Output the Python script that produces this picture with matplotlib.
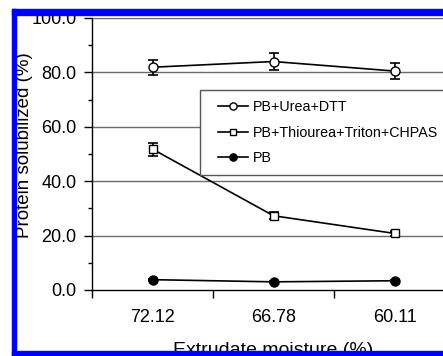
import matplotlib
matplotlib.use("Agg")
import matplotlib.pyplot as plt
from matplotlib.patches import Rectangle
from matplotlib.lines import Line2D
from matplotlib.legend_handler import HandlerLine2D
from matplotlib.ticker import MultipleLocator, FormatStrFormatter, FixedLocator

plt.rcParams["font.family"] = ["Liberation Sans", "DejaVu Sans"]

# dados
umidade = ["72.12", "66.78", "60.11"]
ureia_dtt = [81.9, 84.0, 80.5]
ureia_dtt_err = [2.8, 3.0, 2.9]
tioureia = [51.8, 27.3, 20.8]
tioureia_err = [2.4, 1.2, 1.0]
pb = [3.8, 3.0, 3.4]
pb_err = [0.4, 0.3, 0.3]
rotulos = ["PB+Urea+DTT", "PB+Thiourea+Triton+CHPAS", "PB"]

fig = plt.figure(figsize=(4.43, 3.56), dpi=100)
ax = fig.add_axes([92 / 443, 66 / 356, 363 / 443, 272 / 356])

x = range(len(umidade))
estilo = dict(color="black", lw=1.2, capsize=3.5, capthick=1.2, elinewidth=1.2, ms=6.5)
c1 = ax.errorbar(x, ureia_dtt, yerr=ureia_dtt_err, marker="o", mfc="white", mec="black",
                 **estilo)
c2 = ax.errorbar(x, tioureia, yerr=tioureia_err, marker="s", mfc="white", mec="black",
                 **{**estilo, "ms": 6})
c3 = ax.errorbar(x, pb, yerr=pb_err, marker="o", mfc="black", mec="black", **estilo)

ax.set_xlim(-0.5, 2.5)
ax.set_ylim(0, 100)
ax.set_xticks(list(x))
ax.set_xticklabels(umidade)
ax.xaxis.set_minor_locator(FixedLocator([-0.5, 0.5, 1.5, 2.5]))
ax.tick_params(axis="x", which="major", length=0, pad=14, labelsize=13)
ax.tick_params(axis="x", which="minor", length=6, width=1, direction="out")

ax.yaxis.set_major_locator(MultipleLocator(20))
ax.yaxis.set_minor_locator(MultipleLocator(10))
ax.yaxis.set_major_formatter(FormatStrFormatter("%.1f"))
ax.tick_params(axis="y", which="major", length=6, width=1, direction="out",
               pad=5, labelsize=13)
ax.tick_params(axis="y", which="minor", length=3, width=1, direction="out")

for v in [20, 40, 60, 80, 100]:
    ax.axhline(v, color="#6a6a6a", lw=1.0, zorder=0)

for s in ["top", "right"]:
    ax.spines[s].set_visible(False)
for s in ["left", "bottom"]:
    ax.spines[s].set_linewidth(1.0)

ax.set_ylabel("Protein solubilized (%)", fontsize=13.5, va="center")
ax.yaxis.set_label_coords(-0.186, 0.533)
ax.set_xlabel("Extrudate moisture (%)", fontsize=14, va="top")
ax.xaxis.set_label_coords(0.5, -0.19)

leg = ax.legend([c1[0], c2[0], c3[0]], rotulos, loc="upper left",
                bbox_to_anchor=(108 / 363, 200 / 272),
                borderaxespad=0, fontsize=10.3, frameon=True, fancybox=False,
                edgecolor="#555555", framealpha=1, handlelength=2.65,
                handletextpad=0.3, labelspacing=0.8, borderpad=0.72,
                markerscale=0.8, handler_map={Line2D: HandlerLine2D(xpad=0.55)})
leg.get_frame().set_linewidth(1.0)

# moldura azul
azul = "#0000ff"
fig.add_artist(Rectangle((12 / 443, 1 - 15 / 356), 1, 6 / 356, transform=fig.transFigure,
                         color=azul, zorder=10))
fig.add_artist(Rectangle((12 / 443, 0), 4 / 443, 1 - 9 / 356, transform=fig.transFigure,
                         color=azul, zorder=10))
fig.add_artist(Rectangle((12 / 443, 0), 1, 5 / 356, transform=fig.transFigure,
                         color=azul, zorder=10))

fig.savefig("out.png", dpi=100)
